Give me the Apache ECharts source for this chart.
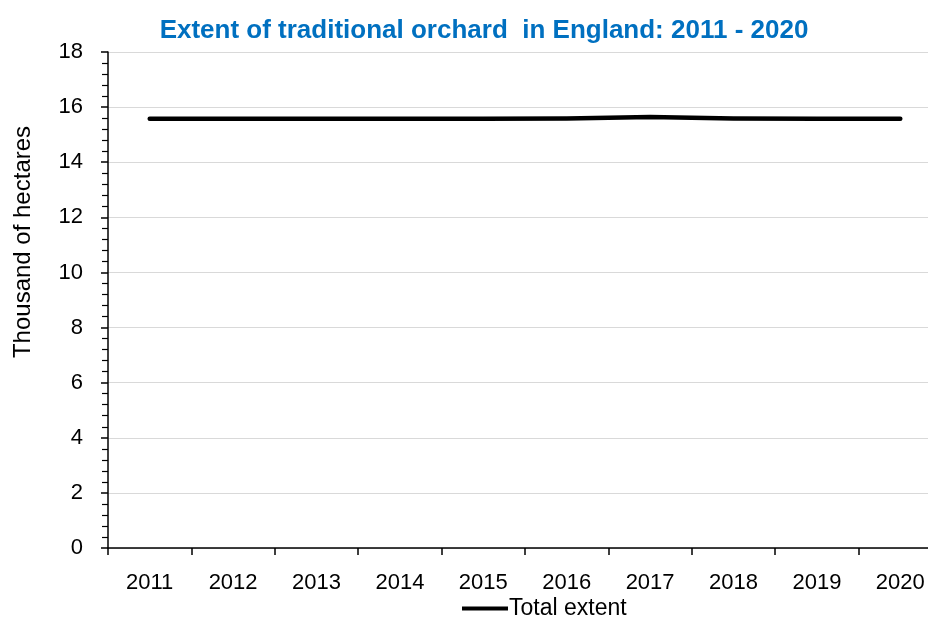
<!DOCTYPE html>
<html><head><meta charset="utf-8">
<script src="https://cdn.jsdelivr.net/npm/echarts@6/dist/echarts.min.js"></script>
<style>html,body{margin:0;padding:0;background:#fff}#c{width:928px;height:619px}</style>
</head><body><div id="c"></div>
<script>
const years = ['2011','2012','2013','2014','2015','2016','2017','2018','2019','2020'];
const totalExtent = [15.58,15.58,15.58,15.58,15.58,15.59,15.64,15.59,15.58,15.58];
const seriesName = 'Total extent';
const titleText = 'Extent of traditional orchard  in England: 2011 - 2020';
const yName = 'Thousand of hectares';

const font = 'Liberation Sans';
const chart = echarts.init(document.getElementById('c'), null, {renderer:'canvas'});
chart.setOption({
  animation:false,
  backgroundColor:'#fff',
  title:{text:titleText,left:479,top:13,textAlign:'center',
    textStyle:{fontFamily:font,fontSize:26,fontWeight:'bold',color:'#0070C0'}},
  legend:{bottom:-6,left:457,itemWidth:46,itemHeight:4,itemGap:4,
    data:[{name:seriesName,icon:'rect'}],
    textStyle:{fontFamily:font,fontSize:23,color:'#000',padding:[0,0,0,-4]}},
  grid:{left:108,width:834,top:52,bottom:71,containLabel:false,outerBoundsMode:'none'},
  xAxis:{type:'category',data:years,boundaryGap:true,
    axisLine:{lineStyle:{color:'#000',width:1.5}},
    axisTick:{show:true,length:7,lineStyle:{color:'#000',width:1.5}},
    axisLabel:{fontFamily:font,fontSize:22,color:'#000',margin:24},
    splitLine:{show:false}},
  yAxis:{type:'value',min:0,max:18,interval:2,
    name:yName,nameLocation:'middle',nameGap:73,nameRotate:90,
    nameTextStyle:{fontFamily:font,fontSize:24,color:'#000',padding:[0,0,0,116]},
    axisLine:{show:true,lineStyle:{color:'#000',width:1.5}},
    axisTick:{show:true,inside:false,length:7,lineStyle:{color:'#000',width:1.5}},
    minorTick:{show:true,splitNumber:5,length:6,lineStyle:{color:'#000',width:1.2}},
    axisLabel:{fontFamily:font,fontSize:22,color:'#000',margin:25},
    splitLine:{show:true,lineStyle:{color:'#d9d9d9',width:1.2}}},
  series:[{name:seriesName,type:'line',data:totalExtent,symbol:'none',
    lineStyle:{color:'#000',width:4.5,cap:'round',join:'round'},itemStyle:{color:'#000'}}]
});
</script></body></html>
